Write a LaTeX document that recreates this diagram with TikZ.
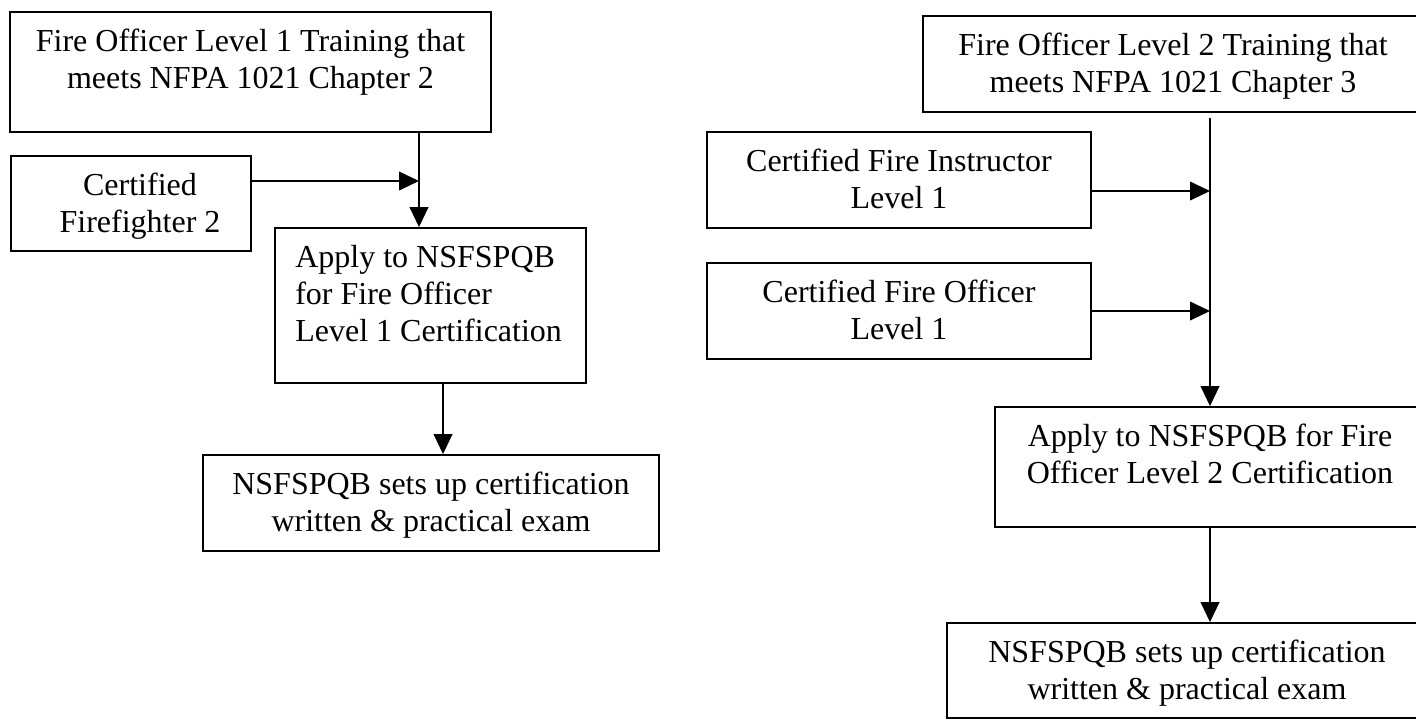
\documentclass[tikz,border=0pt]{standalone}
\usepackage{fontspec}
\setmainfont{Liberation Serif}
\usetikzlibrary{arrows.meta,positioning,fit}

\tikzset{
  box/.style={draw, line width=1.4pt, inner sep=0pt},
  txt/.style={inner sep=0pt, align=center, font=\fontsize{24}{27.75}\selectfont},
  arr/.style={line width=1.4pt, -{Triangle[length=15pt,width=14pt]}}
}

\begin{document}
\begin{tikzpicture}[x=0.75pt,y=-0.75pt]
        \clip (0,0) rectangle (1416,719);
        \node[box, fit={(10,12) (491,132)}] (offA) {};
        \node[box, fit={(11,156) (251,251)}] (ffB) {};
        \node[box, fit={(275,228) (586,383)}] (applyA) {};
        \node[box, fit={(203,455) (659,551)}] (examA) {};
        \node[txt, below=13.5pt of offA.north] (offAtxt) {Fire Officer Level 1 Training that\\meets NFPA 1021 Chapter 2};
        \node[txt, below=13.5pt of ffB.north, xshift=6.75pt] (ffBtxt) {Certified\\Firefighter 2};
        \node[txt, align=left, below right=13.5pt and 15.75pt of applyA.north west] (applyAtxt) {Apply to NSFSPQB\\for Fire Officer\\Level 1 Certification};
        \node[txt, below=13.5pt of examA.north] (examAtxt) {NSFSPQB sets up certification\\written \& practical exam};
        \coordinate (jointA) at (419,181);
        \coordinate (dropA) at (443,420);
        \draw [arr] (offA.south -| jointA) -- (applyA.north -| jointA);
        \draw [arr] (ffB.east |- jointA) -- (jointA);
        \draw [arr] (applyA.south -| dropA) -- (examA.north -| dropA);

        \node[box, fit={(923,16) (1423,112)}] (offB) {};
        \node[box, fit={(707,132) (1091,228)}] (instB) {};
        \node[box, fit={(707,263) (1091,359)}] (certB) {};
        \node[box, fit={(995,407) (1425,527)}] (applyB) {};
        \node[box, fit={(947,623) (1427,718)}] (examB) {};
        \node[txt, below=13.5pt of offB.north] (offBtxt) {Fire Officer Level 2 Training that\\meets NFPA 1021 Chapter 3};
        \node[txt, below=13.5pt of instB.north] (instBtxt) {Certified Fire Instructor\\Level 1};
        \node[txt, below=13.5pt of certB.north] (certBtxt) {Certified Fire Officer\\Level 1};
        \node[txt, below=13.5pt of applyB.north] (applyBtxt) {Apply to NSFSPQB for Fire\\Officer Level 2 Certification};
        \node[txt, below=13.5pt of examB.north] (examBtxt) {NSFSPQB sets up certification\\written \& practical exam};
        \coordinate (topB) at (1210,118);
        \coordinate (jointB) at (1210,191);
        \coordinate (jointC) at (1210,311);
        \draw [arr] (topB) -- (applyB.north -| topB);
        \draw [arr] (instB.east |- jointB) -- (jointB);
        \draw [arr] (certB.east |- jointC) -- (jointC);
        \draw [arr] (applyB.south -| topB) -- (examB.north -| topB);
    \end{tikzpicture}
\end{document}
